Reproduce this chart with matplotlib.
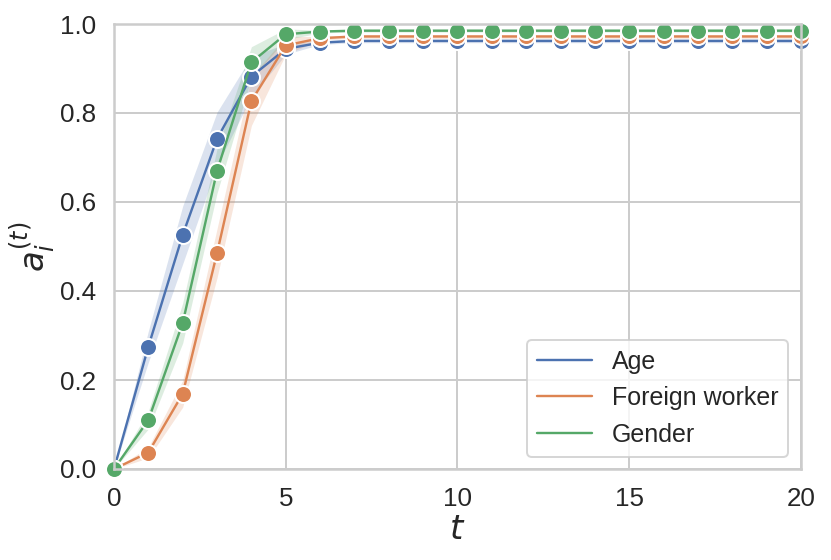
import numpy as np
import matplotlib.pyplot as plt
import seaborn as sns

sns.set_theme(style='whitegrid')
plt.rcParams['font.family'] = ['Liberation Sans', 'DejaVu Sans']

t = np.arange(21)

# mean curves
age = [0.0, 0.275, 0.526, 0.742, 0.882, 0.944] + [0.958] + [0.962] * 14
foreign = [0.0, 0.037, 0.169, 0.485, 0.827, 0.952] + [0.968] + [0.972] * 14
gender = [0.0, 0.110, 0.328, 0.670, 0.914, 0.977] + [0.983] + [0.985] * 14

# half width of the shaded bands
age_ci = [0.0, 0.035, 0.065, 0.06, 0.045, 0.012] + [0.004] * 15
foreign_ci = [0.0, 0.012, 0.03, 0.055, 0.055, 0.02] + [0.004] * 15
gender_ci = [0.0, 0.02, 0.045, 0.05, 0.035, 0.012] + [0.003] * 15

labels = ['Age', 'Foreign worker', 'Gender']
colors = ['#4C72B0', '#DD8452', '#55A868']

fig, ax = plt.subplots(figsize=(831 / 144, 560 / 144), dpi=144)
fig.subplots_adjust(left=114 / 831, right=801 / 831, top=1 - 24 / 560, bottom=1 - 469 / 560)

for y, ci, lab, c in zip([age, foreign, gender], [age_ci, foreign_ci, gender_ci], labels, colors):
    y = np.array(y)
    ci = np.array(ci)
    ax.fill_between(t, y - ci, y + ci, color=c, alpha=0.2, lw=0)
    ax.plot(t, y, color=c, lw=1.2, label=lab)
    ax.plot(t, y, 'o', color=c, ms=8.5, mec='white', mew=1, clip_on=False)

ax.set_xlim(0, 20)
ax.set_ylim(0, 1)
ax.set_xticks([0, 5, 10, 15, 20])
ax.tick_params(labelsize=13, pad=3)
ax.set_xlabel('$t$', fontsize=17, labelpad=2)
ax.set_ylabel('$a_i^{(t)}$', fontsize=17, labelpad=1)
ax.legend(loc='lower right', fontsize=12.5, handlelength=2.2)

fig.savefig('out.png', dpi=144)
